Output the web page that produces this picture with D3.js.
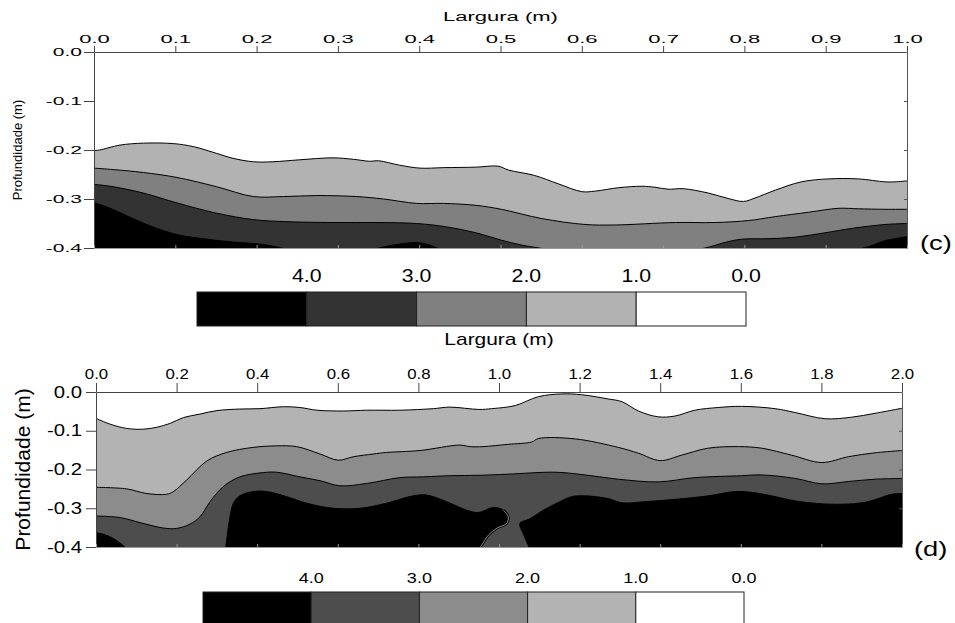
<!DOCTYPE html>
<html>
<head>
<meta charset="utf-8">
<script src="https://cdn.jsdelivr.net/npm/d3@7"></script>
<style>
  body { margin: 0; background: #fff; }
  svg { display: block; font-family: "Liberation Sans", Arial, sans-serif; }
</style>
</head>
<body>
<svg id="chart" width="955" height="623"></svg>
<script>
// contour levels shown in the legends (left box = highest value)
const legendLevels = ["4.0", "3.0", "2.0", "1.0", "0.0"];
const cColors = ["#000000", "#333333", "#808080", "#b2b2b2", "#ffffff"];
const dColors = ["#000000", "#4d4d4d", "#8c8c8c", "#b3b3b3", "#ffffff"];

// (c) Largura 0-1 m : contour lines as [largura, profundidade]
const cContour1 = [[0,-0.201],[0.007,-0.200],[0.032,-0.190],[0.061,-0.186],[0.098,-0.187],[0.122,-0.193],[0.151,-0.207],[0.171,-0.217],[0.196,-0.224],[0.22,-0.224],[0.253,-0.220],[0.294,-0.216],[0.319,-0.219],[0.339,-0.223],[0.35,-0.222],[0.376,-0.231],[0.401,-0.237],[0.43,-0.236],[0.47,-0.235],[0.497,-0.233],[0.51,-0.241],[0.542,-0.252],[0.571,-0.269],[0.6,-0.285],[0.616,-0.284],[0.645,-0.277],[0.674,-0.274],[0.69,-0.276],[0.706,-0.280],[0.725,-0.279],[0.756,-0.288],[0.78,-0.299],[0.799,-0.305],[0.813,-0.298],[0.838,-0.282],[0.87,-0.265],[0.903,-0.259],[0.94,-0.259],[0.973,-0.265],[0.985,-0.265],[1,-0.263]];
const cContour2 = [[0,-0.237],[0.024,-0.240],[0.061,-0.246],[0.102,-0.256],[0.151,-0.275],[0.196,-0.295],[0.233,-0.295],[0.274,-0.293],[0.323,-0.295],[0.356,-0.300],[0.397,-0.309],[0.43,-0.309],[0.47,-0.313],[0.501,-0.321],[0.551,-0.340],[0.604,-0.352],[0.641,-0.353],[0.715,-0.348],[0.764,-0.348],[0.805,-0.344],[0.838,-0.336],[0.879,-0.327],[0.916,-0.319],[0.94,-0.320],[0.973,-0.321],[1,-0.321]];
const cContour3 = [[0,-0.270],[0.024,-0.275],[0.061,-0.288],[0.102,-0.308],[0.151,-0.329],[0.196,-0.342],[0.233,-0.346],[0.294,-0.348],[0.348,-0.348],[0.397,-0.350],[0.434,-0.357],[0.47,-0.369],[0.501,-0.384],[0.526,-0.394],[0.551,-0.401],[0.65,-0.43],[0.749,-0.401],[0.78,-0.387],[0.797,-0.382],[0.829,-0.381],[0.862,-0.378],[0.899,-0.369],[0.932,-0.360],[0.973,-0.352],[1,-0.350]];
const cContour4 = [[0,-0.307],[0.02,-0.319],[0.048,-0.340],[0.077,-0.360],[0.106,-0.374],[0.139,-0.382],[0.171,-0.388],[0.204,-0.392],[0.233,-0.401],[0.29,-0.43],[0.348,-0.401],[0.376,-0.392],[0.397,-0.389],[0.413,-0.394],[0.424,-0.401],[0.68,-0.45],[0.944,-0.401],[0.973,-0.385],[1,-0.377]];

// (d) Largura 0-2 m
const dContour1 = [[0,-0.068],[0.035,-0.083],[0.076,-0.094],[0.117,-0.096],[0.151,-0.091],[0.184,-0.081],[0.217,-0.066],[0.258,-0.057],[0.3,-0.048],[0.357,-0.044],[0.407,-0.043],[0.465,-0.038],[0.506,-0.040],[0.548,-0.047],[0.614,-0.049],[0.672,-0.047],[0.754,-0.047],[0.837,-0.043],[0.878,-0.039],[0.95,-0.045],[0.982,-0.043],[1.04,-0.035],[1.098,-0.012],[1.156,-0.005],[1.205,-0.007],[1.271,-0.018],[1.305,-0.025],[1.346,-0.049],[1.395,-0.064],[1.437,-0.062],[1.486,-0.047],[1.544,-0.040],[1.602,-0.037],[1.685,-0.043],[1.735,-0.053],[1.809,-0.069],[1.875,-0.065],[1.933,-0.055],[2,-0.042]];
const dContour2 = [[0,-0.246],[0.076,-0.250],[0.126,-0.262],[0.175,-0.264],[0.192,-0.257],[0.225,-0.227],[0.275,-0.178],[0.324,-0.156],[0.39,-0.143],[0.448,-0.139],[0.498,-0.141],[0.556,-0.160],[0.601,-0.176],[0.639,-0.167],[0.688,-0.160],[0.721,-0.156],[0.804,-0.151],[0.903,-0.137],[0.928,-0.141],[0.96,-0.141],[1.023,-0.135],[1.081,-0.129],[1.098,-0.120],[1.189,-0.121],[1.296,-0.143],[1.346,-0.158],[1.4,-0.177],[1.453,-0.163],[1.519,-0.145],[1.594,-0.141],[1.652,-0.145],[1.726,-0.163],[1.801,-0.182],[1.867,-0.167],[1.933,-0.157],[2,-0.151]];
const dContour3 = [[0,-0.320],[0.06,-0.324],[0.109,-0.337],[0.167,-0.351],[0.2,-0.352],[0.233,-0.341],[0.258,-0.322],[0.283,-0.283],[0.316,-0.244],[0.357,-0.219],[0.415,-0.208],[0.448,-0.207],[0.506,-0.219],[0.556,-0.229],[0.605,-0.242],[0.672,-0.236],[0.754,-0.221],[0.812,-0.219],[0.878,-0.216],[0.95,-0.215],[1.023,-0.212],[1.139,-0.207],[1.205,-0.213],[1.296,-0.225],[1.395,-0.232],[1.486,-0.221],[1.602,-0.216],[1.652,-0.214],[1.735,-0.223],[1.801,-0.237],[1.867,-0.231],[1.933,-0.225],[2,-0.223]];
// 4.0 contour of (d) is split in three pieces
const dContour4Left = [[0,-0.363],[0.018,-0.367],[0.043,-0.378],[0.072,-0.401],[0.09,-0.43]];
const dContour4Mid = [[0.322,-0.401],[0.3325,-0.322],[0.341,-0.287],[0.357,-0.268],[0.39,-0.257],[0.424,-0.257],[0.473,-0.270],[0.523,-0.287],[0.589,-0.300],[0.655,-0.300],[0.721,-0.287],[0.787,-0.268],[0.821,-0.266],[0.87,-0.283],[0.92,-0.305],[0.949,-0.311],[0.986,-0.298],[1.011,-0.305],[1.023,-0.322],[1.019,-0.339],[0.994,-0.352],[0.974,-0.369],[0.957,-0.395],[0.953,-0.401]];
const dContour4Right = [[1.075,-0.401],[1.062,-0.37],[1.052,-0.339],[1.075,-0.328],[1.11,-0.305],[1.151,-0.283],[1.18,-0.270],[1.213,-0.268],[1.271,-0.275],[1.305,-0.286],[1.362,-0.283],[1.437,-0.277],[1.519,-0.268],[1.586,-0.257],[1.635,-0.260],[1.685,-0.270],[1.735,-0.281],[1.809,-0.289],[1.867,-0.289],[1.916,-0.283],[1.974,-0.264],[2,-0.262]];

const svg = d3.select("#chart");
const fmt = d => d.toFixed(1);

// stretch texts horizontally like in the scanned figure
function stretch(sel, sx) {
  sel.each(function() {
    const w = this.getComputedTextLength();
    d3.select(this).attr("textLength", w * sx).attr("lengthAdjust", "spacingAndGlyphs");
  });
}

function drawPanel(cfg) {
  const x = d3.scaleLinear([0, cfg.xMax], [cfg.left, cfg.right]);
  const y = d3.scaleLinear([0, -0.4], [cfg.top, cfg.bottom]);
  const yBot = y(y.domain()[1]);

  svg.append("clipPath").attr("id", "clip-" + cfg.id)
    .append("rect")
    .attr("x", cfg.left).attr("y", cfg.top)
    .attr("width", cfg.right - cfg.left).attr("height", cfg.bottom - cfg.top);

  const line = d3.line().x(p => x(p[0])).y(p => y(p[1])).curve(d3.curveCatmullRom.alpha(0.5));
  const closed = pts => line(pts) + "L" + x(pts[pts.length - 1][0]) + "," + yBot + "L" + x(pts[0][0]) + "," + yBot + "Z";

  const plot = svg.append("g").attr("clip-path", "url(#clip-" + cfg.id + ")");
  cfg.layers.forEach(l => l.shapes.forEach(pts => {
    plot.append("path").attr("d", closed(pts)).attr("fill", l.color).attr("stroke", "none");
  }));
  cfg.layers.forEach(l => l.shapes.forEach(pts => {
    plot.append("path").attr("d", line(pts)).attr("fill", "none").attr("stroke", "#000").attr("stroke-width", 1);
  }));
  if (cfg.outline) {
    // thin double line along the overhanging edge
    plot.append("path").attr("d", line(cfg.outline)).attr("fill", "none").attr("stroke", "#000").attr("stroke-width", 2.6);
    plot.append("path").attr("d", line(cfg.outline)).attr("fill", "none").attr("stroke", "#c8c8c8").attr("stroke-width", 0.7);
  }

  // top axis
  const top = svg.append("g").attr("transform", "translate(0," + cfg.top + ")")
    .call(d3.axisTop(x).ticks(cfg.xTicks).tickFormat(fmt).tickSize(cfg.xTickSize).tickSizeOuter(0).tickPadding(cfg.xPad));
  top.selectAll("text").attr("font-size", cfg.xFont).attr("fill", "#000").attr("font-family", null);
  top.selectAll("line, path").attr("stroke", "#444");
  stretch(top.selectAll("text"), cfg.xStretch);

  // left axis
  const left = svg.append("g").attr("transform", "translate(" + cfg.left + ",0)")
    .call(d3.axisLeft(y).ticks(4).tickFormat(fmt).tickSize(cfg.yTickSize).tickSizeOuter(0).tickPadding(cfg.yPad));
  left.selectAll("text").attr("font-size", cfg.yFont).attr("fill", "#000").attr("font-family", null);
  left.selectAll("line, path").attr("stroke", "#444");
  stretch(left.selectAll("text"), cfg.yStretch);

  // right and bottom frame with small inner ticks
  const right = svg.append("g").attr("transform", "translate(" + cfg.right + ",0)")
    .call(d3.axisRight(y).ticks(4).tickFormat("").tickSize(-3).tickSizeOuter(0));
  right.selectAll("line, path").attr("stroke", "#555");
  const bottom = svg.append("g").attr("transform", "translate(0," + cfg.bottom + ")")
    .call(d3.axisBottom(x).ticks(cfg.xTicks).tickFormat("").tickSize(-3).tickSizeOuter(0));
  bottom.selectAll("line, path").attr("stroke", "#999");

  // titles
  const xt = svg.append("text").attr("x", (cfg.left + cfg.right) / 2).attr("y", cfg.xTitleY)
    .attr("text-anchor", "middle").attr("font-size", cfg.xTitleFont).text("Largura (m)");
  stretch(xt, cfg.xTitleStretch);
  svg.append("text")
    .attr("transform", "translate(" + cfg.yTitleX + "," + (cfg.top + cfg.bottom) / 2 + ") rotate(-90)")
    .attr("text-anchor", "middle").attr("font-size", cfg.yTitleFont).text("Profundidade (m)");
  const tag = svg.append("text").attr("x", cfg.tagX).attr("y", cfg.tagY)
    .attr("font-size", 21).text(cfg.tag);
  stretch(tag, 1.3);
}

function drawLegend(cfg) {
  const lx = d3.scaleLinear([0, legendLevels.length], [cfg.left, cfg.right]);
  const g = svg.append("g");
  g.selectAll("rect").data(cfg.colors).join("rect")
    .attr("x", (d, i) => lx(i)).attr("y", cfg.top)
    .attr("width", (d, i) => lx(i + 1) - lx(i)).attr("height", cfg.height)
    .attr("fill", d => d).attr("stroke", "#222").attr("stroke-width", 1);
  const labels = g.selectAll("text").data(legendLevels).join("text")
    .attr("x", (d, i) => lx(i + 1)).attr("y", cfg.labelY)
    .attr("text-anchor", "middle").attr("font-size", cfg.font).text(d => d);
  stretch(labels, cfg.stretch);
}

drawPanel({
  id: "c", xMax: 1, left: 94, right: 907, top: 52, bottom: 248, xTicks: 10,
  layers: [
    { color: cColors[3], shapes: [cContour1] },
    { color: cColors[2], shapes: [cContour2] },
    { color: cColors[1], shapes: [cContour3] },
    { color: cColors[0], shapes: [cContour4] }
  ],
  xTickSize: 6, xPad: 3, xFont: 10.5, xStretch: 2.1,
  yTickSize: 10, yPad: 2, yFont: 10.5, yStretch: 2.0,
  xTitleY: 21, xTitleFont: 12.5, xTitleStretch: 1.76,
  yTitleX: 22, yTitleFont: 13,
  tag: "(c)", tagX: 920, tagY: 250
});
drawLegend({ left: 197, right: 746, top: 292, height: 34, labelY: 282, font: 19, stretch: 1.12, colors: cColors });

drawPanel({
  id: "d", xMax: 2, left: 96, right: 902, top: 392, bottom: 547, xTicks: 10,
  layers: [
    { color: dColors[3], shapes: [dContour1] },
    { color: dColors[2], shapes: [dContour2] },
    { color: dColors[1], shapes: [dContour3] },
    { color: dColors[0], shapes: [dContour4Left, dContour4Mid, dContour4Right] }
  ],
  outline: dContour4Mid.slice(-7),
  xTickSize: 9, xPad: 4, xFont: 14, xStretch: 1.2,
  yTickSize: 10, yPad: 4, yFont: 16, yStretch: 1.27,
  xTitleY: 345, xTitleFont: 17, xTitleStretch: 1.23,
  yTitleX: 30, yTitleFont: 21,
  tag: "(d)", tagX: 914, tagY: 556
});
drawLegend({ left: 203, right: 744, top: 592, height: 33, labelY: 583, font: 15, stretch: 1.2, colors: dColors });
</script>
</body>
</html>
